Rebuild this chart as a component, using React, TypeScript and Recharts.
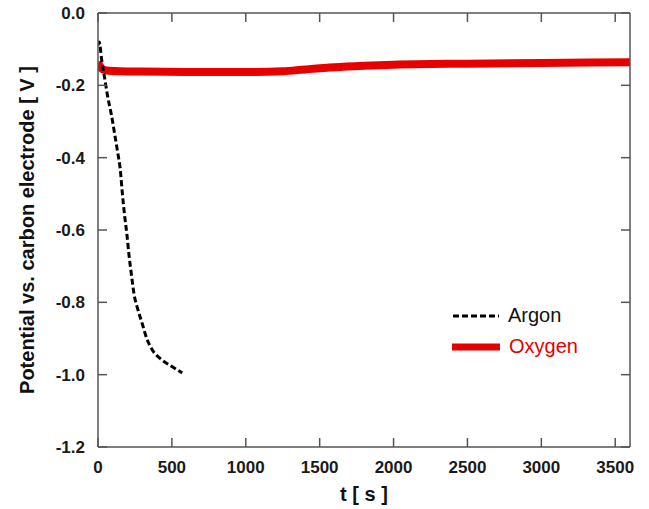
import { LineChart, Line, XAxis, YAxis } from 'recharts'

const argonTime = [0, 8, 25, 45, 65, 90, 115, 135, 150, 165, 180, 195, 210, 225, 245, 270, 300, 330, 365, 420, 490, 570]
const argonPotential = [-0.09, -0.08, -0.13, -0.18, -0.23, -0.28, -0.34, -0.39, -0.43, -0.5, -0.56, -0.61, -0.67, -0.72, -0.78, -0.82, -0.86, -0.9, -0.93, -0.955, -0.975, -0.995]

const oxygenTime = [0, 10, 30, 60, 150, 300, 600, 1000, 1250, 1400, 1600, 1800, 2000, 2500, 3000, 3600]
const oxygenPotential = [-0.135, -0.145, -0.155, -0.159, -0.161, -0.162, -0.163, -0.163, -0.161, -0.156, -0.15, -0.146, -0.143, -0.14, -0.138, -0.136]

const xTicks = [0, 500, 1000, 1500, 2000, 2500, 3000, 3500]
const yTicks = [0, -0.2, -0.4, -0.6, -0.8, -1.0, -1.2]

const argonData = argonTime.map((t, i) => ({ t, v: argonPotential[i] }))
const oxygenData = oxygenTime.map((t, i) => ({ t, v: oxygenPotential[i] }))

const axisColor = '#555'
const red = '#e60000'
const tickStyle = { fontSize: 17, fontWeight: 700, fill: '#1a1a1a' }
const blank = () => ''
const frameLine = { stroke: axisColor, strokeWidth: 1.5 }

// rotated y title, centred on the plot
const YTitle = ({ viewBox }: any) => {
  const cy = viewBox.y + viewBox.height / 2
  return (
    <text
      x={27}
      y={cy}
      transform={`rotate(-90, 27, ${cy})`}
      textAnchor="middle"
      dominantBaseline="central"
      style={{ fontSize: 20, fontWeight: 700, fill: '#111' }}
    >
      Potential vs. carbon electrode [ V ]
    </text>
  )
}

const LegendBox = () => (
  <div style={{ position: 'absolute', left: 450, top: 300, fontSize: 20, lineHeight: '31px' }}>
    <div style={{ display: 'flex', alignItems: 'center' }}>
      <svg width={58} height={10}>
        <line x1={3} y1={5} x2={49} y2={5} stroke="#000" strokeWidth={3} strokeDasharray="6 3" />
      </svg>
      <span style={{ color: '#111' }}>Argon</span>
    </div>
    <div style={{ display: 'flex', alignItems: 'center' }}>
      <svg width={59} height={10}>
        <line x1={2} y1={5} x2={50} y2={5} stroke={red} strokeWidth={7} />
      </svg>
      <span style={{ color: red }}>Oxygen</span>
    </div>
  </div>
)

export default function App() {
  return (
    <div style={{ position: 'absolute', left: 0, top: 0, width: 649, height: 509, background: '#fff', fontFamily: '"Liberation Sans", Arial, sans-serif' }}>
      <LineChart width={649} height={509} margin={{ top: 13, right: 19, bottom: 0, left: 0 }}>
        <XAxis
          xAxisId="b"
          dataKey="t"
          type="number"
          domain={[0, 3600]}
          ticks={xTicks}
          allowDataOverflow
          height={62}
          tickLine={false}
          tickSize={0}
          tickMargin={14}
          axisLine={frameLine}
          tick={tickStyle}
          label={{ value: 't [ s ]', position: 'insideBottom', offset: 8, style: { fontSize: 20, fontWeight: 700, fill: '#111' } }}
        />
        <XAxis
          xAxisId="bm"
          dataKey="t"
          type="number"
          domain={[0, 3600]}
          ticks={xTicks}
          allowDataOverflow
          mirror
          height={1}
          tickSize={9}
          tickFormatter={blank}
          axisLine={false}
          tickLine={frameLine}
        />
        <XAxis
          xAxisId="top"
          orientation="top"
          dataKey="t"
          type="number"
          domain={[0, 3600]}
          ticks={xTicks}
          allowDataOverflow
          mirror
          height={1}
          tickSize={9}
          tickFormatter={blank}
          axisLine={frameLine}
          tickLine={frameLine}
        />
        <YAxis
          yAxisId="l"
          type="number"
          domain={[-1.2, 0]}
          ticks={yTicks}
          allowDataOverflow
          width={98}
          tickLine={false}
          tickSize={0}
          tickMargin={13}
          axisLine={frameLine}
          tick={tickStyle}
          tickFormatter={(v: number) => v.toFixed(1)}
          label={<YTitle />}
        />
        <YAxis
          yAxisId="lm"
          type="number"
          domain={[-1.2, 0]}
          ticks={yTicks}
          allowDataOverflow
          mirror
          width={1}
          tickSize={9}
          tickFormatter={blank}
          axisLine={false}
          tickLine={frameLine}
        />
        <YAxis
          yAxisId="r"
          orientation="right"
          type="number"
          domain={[-1.2, 0]}
          ticks={yTicks}
          allowDataOverflow
          mirror
          width={1}
          tickSize={9}
          tickFormatter={blank}
          axisLine={frameLine}
          tickLine={frameLine}
        />
        {/* invisible copies so the mirrored frame axes get drawn */}
        <Line xAxisId="bm" yAxisId="lm" data={oxygenData} dataKey="v" stroke="none" dot={false} activeDot={false} isAnimationActive={false} />
        <Line xAxisId="top" yAxisId="r" data={oxygenData} dataKey="v" stroke="none" dot={false} activeDot={false} isAnimationActive={false} />
        <Line
          xAxisId="b"
          yAxisId="l"
          data={oxygenData}
          dataKey="v"
          type="monotone"
          stroke={red}
          strokeWidth={8}
          dot={false}
          isAnimationActive={false}
        />
        <Line
          xAxisId="b"
          yAxisId="l"
          data={argonData}
          dataKey="v"
          type="monotone"
          stroke="#000"
          strokeWidth={3}
          strokeDasharray="6 3"
          dot={false}
          isAnimationActive={false}
        />
      </LineChart>
      <LegendBox />
    </div>
  )
}
